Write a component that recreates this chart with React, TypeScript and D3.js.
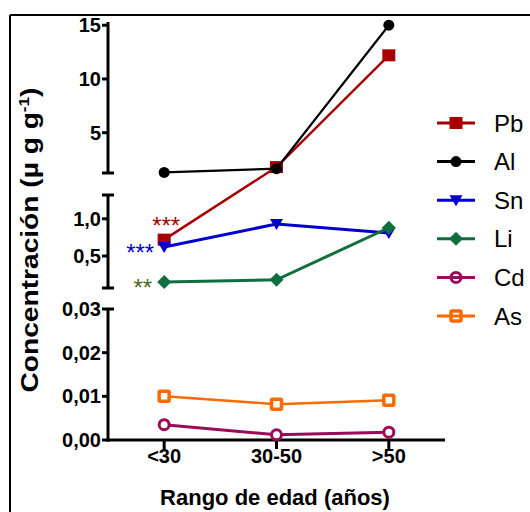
import React from "react";
import { scaleLinear, scalePoint, line } from "d3";

// categorías y series (µg g-1)
const categories = ["<30", "30-50", ">50"];
const pb = [0.72, 1.8, 12.2];
const al = [1.3, 1.65, 15.0];
const sn = [0.62, 0.93, 0.81];
const li = [0.15, 0.18, 0.88];
const cd = [0.0035, 0.0012, 0.0018];
const as = [0.01, 0.0082, 0.0091];

const topTicks = [5, 10, 15];
const midTicks = [0.5, 1.0];
const botTicks = [0, 0.01, 0.02, 0.03];
const legendNames = ["Pb", "Al", "Sn", "Li", "Cd", "As"];

const FONT = "'Liberation Sans', Arial, sans-serif";
const fmt = (v: number, d: number) => v.toFixed(d).replace(".", ",");

type Marker = "square" | "circle" | "triDown" | "diamond" | "openCircle" | "openSquare";

const series: { name: string; values: number[]; color: string; marker: Marker; width: number }[] = [
  { name: "Pb", values: pb, color: "#A80000", marker: "square", width: 2.5 },
  { name: "Al", values: al, color: "#000000", marker: "circle", width: 2.2 },
  { name: "Sn", values: sn, color: "#0000CC", marker: "triDown", width: 3 },
  { name: "Li", values: li, color: "#106E40", marker: "diamond", width: 3 },
  { name: "Cd", values: cd, color: "#9C0A5A", marker: "openCircle", width: 3 },
  { name: "As", values: as, color: "#FF6A00", marker: "openSquare", width: 2.5 },
];

const drawMarker = (m: Marker, cx: number, cy: number, color: string, key: string, legend = false) => {
  switch (m) {
    case "square":
      return <rect key={key} x={cx - 6.5} y={cy - 6} width={13} height={12} fill={color} />;
    case "circle":
      return <circle key={key} cx={cx} cy={cy} r={5.5} fill={color} />;
    case "triDown":
      return <path key={key} d={`M${cx - 6.5},${cy - 5} L${cx + 6.5},${cy - 5} L${cx},${cy + 6} Z`} fill={color} />;
    case "diamond":
      return <path key={key} d={`M${cx},${cy - 7} L${cx + 7},${cy} L${cx},${cy + 7} L${cx - 7},${cy} Z`} fill={color} />;
    case "openCircle":
      return <circle key={key} cx={cx} cy={cy} r={5} fill={legend ? "none" : "#fff"} stroke={color} strokeWidth={3} />;
    case "openSquare":
      return (
        <rect key={key} x={cx - 5} y={cy - 5} width={10} height={10} rx={1} fill={legend ? "none" : "#fff"} stroke={color} strokeWidth={3.5} />
      );
  }
};

export default function App() {
  const width = 530;
  const height = 512;
  const axisX = 108;
  const baseY = 440;

  const x = scalePoint<string>().domain(categories).range([axisX, 445]).padding(0.5);

  // eje Y partido en tres tramos
  const yTop = scaleLinear().domain([1.25, 15.3]).range([173, 22]);
  const yMid = scaleLinear().domain([0.07, 1.32]).range([288, 195]);
  const yBot = scaleLinear().domain([0, 0.03]).range([baseY, 309]);
  const yFor = (v: number) => (v > 1.25 ? yTop(v) : v >= 0.05 ? yMid(v) : yBot(v));

  const lineGen = line<number>()
    .x((_, i) => x(categories[i])!)
    .y((v) => yFor(v));

  const tickLabel = (y: number, label: string, key: string) => (
    <g key={key}>
      <line x1={axisX - 6} x2={axisX} y1={y} y2={y} stroke="#000" strokeWidth={3} />
      <text x={axisX - 7} y={y + 7} textAnchor="end" fontSize={20} fontWeight="bold" fontFamily={FONT}>
        {label}
      </text>
    </g>
  );

  const cap = (y: number) => <line x1={axisX - 6} x2={axisX + 6} y1={y} y2={y} stroke="#000" strokeWidth={3} />;

  return (
    <svg width={width} height={height} style={{ position: "absolute", left: 0, top: 0, background: "#fff" }}>
      {/* marco */}
      <line x1={10} x2={530} y1={15} y2={15} stroke="#000" strokeWidth={2} />
      <line x1={10} x2={10} y1={15} y2={512} stroke="#000" strokeWidth={2} />

      {/* eje Y */}
      <line x1={axisX} x2={axisX} y1={yTop(15.3)} y2={yTop(1.25)} stroke="#000" strokeWidth={3} />
      {cap(yTop(1.25))}
      <line x1={axisX} x2={axisX} y1={yMid(1.32)} y2={yMid(0.07)} stroke="#000" strokeWidth={3} />
      {cap(yMid(1.32))}
      {cap(yMid(0.07))}
      <line x1={axisX} x2={axisX} y1={yBot(0.03)} y2={baseY + 1.5} stroke="#000" strokeWidth={3} />
      {cap(yBot(0.03))}
      {topTicks.map((t) => tickLabel(yTop(t), String(t), `t${t}`))}
      {midTicks.map((t) => tickLabel(yMid(t), fmt(t, 1), `m${t}`))}
      {botTicks.slice(0, 3).map((t) => tickLabel(yBot(t), fmt(t, 2), `b${t}`))}
      <text x={axisX - 7} y={yBot(0.03) + 7} textAnchor="end" fontSize={20} fontWeight="bold" fontFamily={FONT}>
        {fmt(0.03, 2)}
      </text>

      {/* eje X */}
      <line x1={axisX - 1.5} x2={445} y1={baseY} y2={baseY} stroke="#000" strokeWidth={3} />
      {categories.map((c) => (
        <g key={c}>
          <line x1={x(c)} x2={x(c)} y1={baseY} y2={baseY + 9} stroke="#000" strokeWidth={3} />
          <text x={x(c)} y={baseY + 23} textAnchor="middle" fontSize={20} fontWeight="bold" fontFamily={FONT}>
            {c}
          </text>
        </g>
      ))}

      {/* títulos */}
      <text x={275} y={505} textAnchor="middle" fontSize={22} fontWeight="bold" fontFamily={FONT}>
        Rango de edad (años)
      </text>
      <text
        transform={`translate(38, 240) rotate(-90)`}
        textAnchor="middle"
        fontSize={23}
        fontWeight="bold"
        fontFamily={FONT}
        textLength={305}
        lengthAdjust="spacingAndGlyphs"
      >
        Concentración (µ g g<tspan dy={-9} fontSize={14}>-1</tspan>
        <tspan dy={9}>)</tspan>
      </text>

      {/* series */}
      {series.map((s) => (
        <g key={s.name}>
          <path d={lineGen(s.values) ?? ""} fill="none" stroke={s.color} strokeWidth={s.width} />
          {s.values.map((v, i) => drawMarker(s.marker, x(categories[i])!, yFor(v), s.color, `${s.name}${i}`))}
        </g>
      ))}

      {/* significancia */}
      <text x={x(categories[0])! + 16} y={yFor(pb[0]) - 6} textAnchor="end" fontSize={24} fill="#A80000" fontFamily={FONT}>
        ***
      </text>
      <text x={x(categories[0])! - 10} y={yFor(sn[0]) + 14} textAnchor="end" fontSize={24} fill="#0000CC" fontFamily={FONT}>
        ***
      </text>
      <text x={x(categories[0])! - 12} y={yFor(li[0]) + 14} textAnchor="end" fontSize={24} fill="#4A6B1A" fontFamily={FONT}>
        **
      </text>

      {/* leyenda */}
      {series.map((s, i) => {
        const cy = 123 + i * 38.6;
        return (
          <g key={`lg${s.name}`}>
            <line x1={437} x2={475} y1={cy} y2={cy} stroke={s.color} strokeWidth={3} />
            {drawMarker(s.marker, 456, cy, s.color, `lm${s.name}`, true)}
            <text x={494} y={cy + 8.5} fontSize={24} fontFamily={FONT}>
              {legendNames[i]}
            </text>
          </g>
        );
      })}
    </svg>
  );
}
